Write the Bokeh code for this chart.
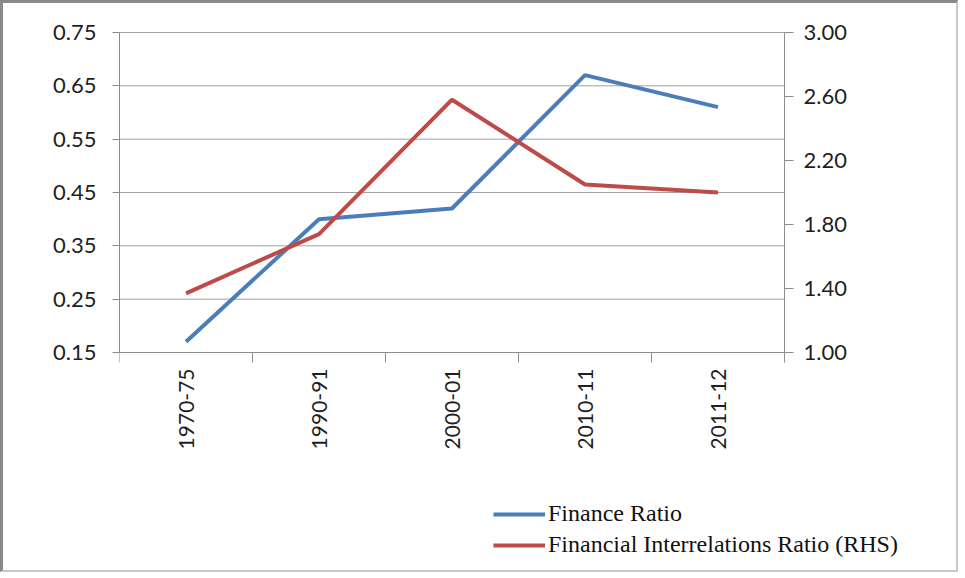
import math
from bokeh.plotting import figure
from bokeh.models import (Range1d, LinearAxis, FixedTicker, NumeralTickFormatter,
                          Legend, LegendItem)
from bokeh.embed import file_html
from bokeh.resources import INLINE

# ---- data ----
categories = ["1970-75", "1990-91", "2000-01", "2010-11", "2011-12"]
finance_ratio = [0.17, 0.40, 0.42, 0.67, 0.61]
fir_rhs = [1.37, 1.74, 2.58, 2.05, 2.00]
left_ticks = [0.15, 0.25, 0.35, 0.45, 0.55, 0.65, 0.75]
right_ticks = [1.00, 1.40, 1.80, 2.20, 2.60, 3.00]

n = len(categories)
xpos = [i + 1 for i in range(n)]
bounds = [i + 0.5 for i in range(n + 1)]

GRID = "#a0a0a0"
AXIS = "#8c8c8c"
TXT = "#1f1f1f"
FONT = "Lato"

# layout (pixels): data area 665 x 320; frame extends around it to hold labels & legend
DATA_W, DATA_H = 665, 320
RIGHT, BELOW, ABOVE = 172, 218, 29
lo, hi = left_ticks[0], left_ticks[-1]
rlo, rhi = right_ticks[0], right_ticks[-1]
y_start = lo - (hi - lo) * BELOW / DATA_H
y_end = hi + (hi - lo) * ABOVE / DATA_H
r_start = rlo - (rhi - rlo) * BELOW / DATA_H
r_end = rhi + (rhi - rlo) * ABOVE / DATA_H
x_end = (n + 0.5) + n * RIGHT / DATA_W

p = figure(frame_width=DATA_W + RIGHT, frame_height=DATA_H + BELOW + ABOVE,
           output_backend="svg", toolbar_location=None,
           x_range=Range1d(0.5, x_end),
           y_range=Range1d(y_start, y_end),
           min_border_left=116, min_border_right=0,
           min_border_top=0, min_border_bottom=0)
p.extra_y_ranges = {"rhs": Range1d(r_start, r_end)}
p.outline_line_color = None
p.background_fill_color = "white"
p.border_fill_color = "white"
p.styles = {"border-left": "3px solid #8a8a8a", "border-top": "3px solid #8a8a8a",
            "border-right": "2px solid #c8c8c8", "border-bottom": "2px solid #c8c8c8"}

# horizontal gridlines only across the data area (at the left-axis ticks)
p.xgrid.visible = False
p.ygrid.visible = False
p.segment(x0=[0.5] * len(left_ticks), x1=[n + 0.5] * len(left_ticks),
          y0=left_ticks, y1=left_ticks, line_color=GRID, line_width=1, level="underlay")

# left axis
ya = p.yaxis[0]
ya.ticker = FixedTicker(ticks=left_ticks, minor_ticks=[])
ya.formatter = NumeralTickFormatter(format="0.00")
ya.bounds = (lo, hi)
ya.axis_line_color = AXIS
ya.major_tick_line_color = AXIS
ya.major_tick_out = 7
ya.major_tick_in = 0
ya.minor_tick_line_color = None
ya.major_label_standoff = 16
ya.major_label_text_font = FONT
ya.major_label_text_font_size = "22px"
ya.major_label_text_color = TXT

# right axis, drawn at the right edge of the data area
ra = LinearAxis(y_range_name="rhs", fixed_location=n + 0.5)
ra.ticker = FixedTicker(ticks=right_ticks, minor_ticks=[])
ra.formatter = NumeralTickFormatter(format="0.00")
ra.bounds = (rlo, rhi)
ra.axis_line_color = AXIS
ra.major_tick_line_color = AXIS
ra.major_tick_out = 9
ra.major_tick_in = 0
ra.minor_tick_line_color = None
ra.major_label_standoff = 10
ra.major_label_text_font = FONT
ra.major_label_text_font_size = "22px"
ra.major_label_text_color = TXT
p.add_layout(ra, "right")

# bottom axis, drawn at y = 0.15
xa = p.xaxis[0]
xa.fixed_location = lo
xa.bounds = (0.5, n + 0.5)
xa.ticker = FixedTicker(ticks=xpos, minor_ticks=bounds)
xa.major_label_overrides = {xv: c for xv, c in zip(xpos, categories)}
xa.axis_line_color = AXIS
xa.major_tick_line_color = None
xa.major_tick_out = 0
xa.major_tick_in = 0
xa.minor_tick_line_color = AXIS
xa.minor_tick_out = 10
xa.minor_tick_in = 0
xa.major_label_orientation = math.pi / 2
xa.major_label_standoff = 6
xa.major_label_text_font = FONT
xa.major_label_text_font_size = "21px"
xa.major_label_text_color = TXT

# lines
r1 = p.line(xpos, finance_ratio, line_color="#4A7EBB", line_width=4)
r2 = p.line(xpos, fir_rhs, y_range_name="rhs", line_color="#BE4B48", line_width=4)

legend = Legend(items=[LegendItem(label="Finance Ratio", renderers=[r1]),
                       LegendItem(label="Financial Interrelations Ratio (RHS)", renderers=[r2])],
                location=(374, 12))
legend.label_text_font = "Liberation Serif"
legend.label_text_font_size = "24px"
legend.label_text_color = "#111111"
legend.glyph_width = 52
legend.glyph_height = 24
legend.label_height = 24
legend.label_standoff = 3
legend.spacing = 4
legend.padding = 0
legend.margin = 0
legend.border_line_color = None
legend.background_fill_alpha = 0
p.add_layout(legend)

open("out.html", "w").write(file_html(p, INLINE))
